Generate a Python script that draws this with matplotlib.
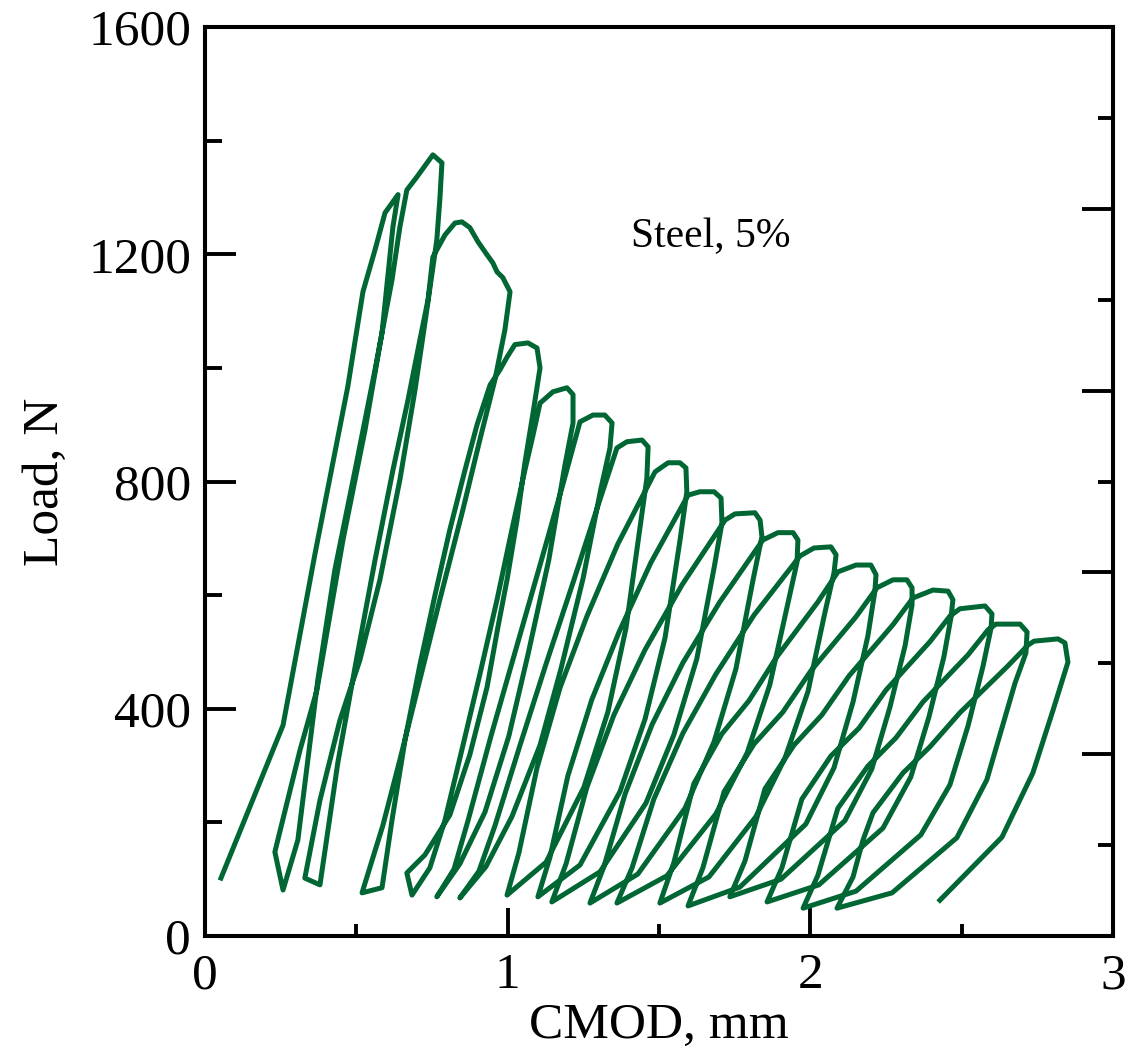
import numpy as np
import matplotlib
matplotlib.use("Agg")
import matplotlib.pyplot as plt
from matplotlib.ticker import MultipleLocator

# ------------------- data (CMOD, mm / Load, N) -------------------
# initial loading up to the first peak
c00_x = [0.053, 0.258, 0.363, 0.472, 0.522, 0.562, 0.595, 0.638]
c00_y = [102, 371, 671, 967, 1134, 1208, 1273, 1305]

# each cycle: unloading from previous peak -> bottom -> reloading over the next peak
c01_x = [0.621, 0.585, 0.529, 0.456, 0.370, 0.314, 0.231, 0.258, 0.307, 0.373, 0.429, 0.496,
         0.562, 0.618, 0.644, 0.667, 0.700, 0.753, 0.783, 0.776]
c01_y = [1248, 1062, 891, 697, 433, 327, 148, 81, 169, 451, 644, 820,
         997, 1155, 1248, 1313, 1336, 1375, 1361, 1296]

c02_x = [0.766, 0.733, 0.694, 0.644, 0.578, 0.512, 0.446, 0.380, 0.330, 0.380, 0.439, 0.502,
         0.562, 0.621, 0.671, 0.710, 0.737, 0.753, 0.793, 0.826, 0.849, 0.875, 0.902, 0.932,
         0.951, 0.965, 0.984, 1.008]
c02_y = [1225, 1102, 961, 803, 627, 486, 380, 239, 102, 90, 305, 491,
         662, 820, 944, 1049, 1120, 1195, 1234, 1255, 1257, 1247, 1222, 1199,
         1185, 1169, 1159, 1134]

c03_x = [0.991, 0.958, 0.908, 0.852, 0.776, 0.710, 0.644, 0.588, 0.519, 0.585, 0.618, 0.661,
         0.710, 0.760, 0.809, 0.859, 0.899, 0.942, 0.975, 0.998, 1.024, 1.067, 1.097, 1.107]
c03_y = [1067, 979, 873, 750, 592, 451, 310, 195, 76, 85, 204, 345,
         477, 600, 715, 820, 900, 970, 997, 1019, 1041, 1044, 1035, 1000]

c04_x = [1.084, 1.057, 1.031, 0.998, 0.968, 0.932, 0.875, 0.809, 0.727, 0.667, 0.684, 0.743,
         0.793, 0.849, 0.908, 0.965, 1.014, 1.057, 1.084, 1.107, 1.150, 1.196, 1.216, 1.216]
c04_y = [921, 833, 732, 627, 544, 438, 319, 213, 143, 111, 72, 120,
         204, 328, 460, 592, 715, 820, 882, 938, 958, 965, 953, 903]

c05_x = [1.189, 1.136, 1.067, 1.004, 0.925, 0.842, 0.766, 0.823, 0.869, 0.945, 1.027, 1.107,
         1.183, 1.239, 1.282, 1.321, 1.345, 1.338]
c05_y = [828, 662, 495, 352, 218, 127, 69, 118, 203, 352, 504, 653,
         796, 905, 917, 917, 903, 859]

c06_x = [1.308, 1.249, 1.176, 1.107, 1.014, 0.928, 0.842, 0.905, 0.958, 1.041, 1.127, 1.216,
         1.298, 1.361, 1.394, 1.444, 1.464, 1.460]
c06_y = [787, 629, 470, 336, 210, 122, 67, 114, 194, 336, 479, 622,
         757, 859, 870, 873, 861, 806]

c07_x = [1.437, 1.391, 1.331, 1.252, 1.127, 0.998, 1.037, 1.097, 1.173, 1.262, 1.364, 1.487,
         1.530, 1.569, 1.589, 1.592]
c07_y = [718, 542, 394, 262, 130, 72, 146, 296, 437, 563, 690, 817,
         833, 833, 824, 782]

c08_x = [1.569, 1.520, 1.454, 1.371, 1.239, 1.100, 1.140, 1.199, 1.278, 1.368, 1.473, 1.596,
         1.635, 1.682, 1.705, 1.708]
c08_y = [695, 525, 382, 254, 125, 69, 139, 282, 416, 535, 657, 776,
         782, 782, 771, 727]

c09_x = [1.682, 1.625, 1.549, 1.457, 1.305, 1.146, 1.193, 1.262, 1.351, 1.454, 1.576, 1.718,
         1.751, 1.817, 1.834, 1.840]
c09_y = [648, 488, 354, 234, 113, 60, 127, 262, 389, 504, 618, 732,
         743, 745, 732, 703]

c10_x = [1.810, 1.754, 1.682, 1.586, 1.430, 1.272, 1.318, 1.388, 1.477, 1.579, 1.701, 1.843,
         1.893, 1.943, 1.959, 1.956]
c10_y = [625, 470, 342, 225, 109, 58, 122, 250, 372, 481, 588, 697,
         710, 710, 697, 658]

c11_x = [1.926, 1.866, 1.791, 1.688, 1.526, 1.361, 1.411, 1.483, 1.579, 1.688, 1.814, 1.966,
         2.012, 2.068, 2.085, 2.078]
c11_y = [586, 442, 322, 215, 106, 58, 120, 241, 357, 461, 565, 669,
         683, 685, 671, 639]

c12_x = [2.048, 1.992, 1.916, 1.820, 1.665, 1.503, 1.549, 1.615, 1.708, 1.797, 1.886, 2.025,
         2.091, 2.151, 2.200, 2.217, 2.213]
c12_y = [569, 430, 313, 210, 104, 58, 129, 268, 356, 414, 489, 588,
         641, 653, 653, 636, 606]

c13_x = [2.190, 2.141, 2.078, 1.985, 1.767, 1.596, 1.645, 1.715, 1.814, 1.909, 2.002, 2.151,
         2.220, 2.273, 2.319, 2.336, 2.336]
c13_y = [528, 412, 296, 197, 86, 53, 120, 254, 338, 394, 467, 562,
         613, 627, 627, 613, 583]

c14_x = [2.313, 2.263, 2.203, 2.114, 1.903, 1.734, 1.784, 1.850, 1.946, 2.038, 2.128, 2.273,
         2.339, 2.405, 2.455, 2.471, 2.465]
c14_y = [511, 403, 294, 203, 100, 69, 132, 259, 336, 389, 458, 548,
         595, 609, 607, 592, 562]

c15_x = [2.441, 2.392, 2.332, 2.240, 2.028, 1.857, 1.906, 1.972, 2.068, 2.161, 2.250, 2.395,
         2.461, 2.494, 2.577, 2.600, 2.597]
c15_y = [491, 386, 280, 190, 90, 60, 120, 241, 317, 366, 433, 518,
         563, 576, 581, 567, 542]

c16_x = [2.570, 2.521, 2.461, 2.365, 2.151, 1.976, 2.025, 2.091, 2.190, 2.283, 2.372, 2.521,
         2.587, 2.613, 2.693, 2.716, 2.712]
c16_y = [474, 370, 266, 178, 79, 49, 107, 225, 299, 349, 412, 495,
         539, 549, 549, 535, 498]

c17_x = [2.676, 2.583, 2.484, 2.270, 2.088, 2.141, 2.174, 2.207, 2.306, 2.395, 2.494, 2.650,
         2.719, 2.739, 2.818, 2.841, 2.851]
c17_y = [445, 275, 173, 76, 49, 104, 169, 217, 287, 333, 393, 474,
         512, 519, 523, 516, 482]

# last unloading (end of test)
c18_x = [2.802, 2.735, 2.633, 2.428]
c18_y = [398, 287, 174, 63]

cycles_x = [c00_x, c01_x, c02_x, c03_x, c04_x, c05_x, c06_x, c07_x, c08_x, c09_x,
            c10_x, c11_x, c12_x, c13_x, c14_x, c15_x, c16_x, c17_x, c18_x]
cycles_y = [c00_y, c01_y, c02_y, c03_y, c04_y, c05_y, c06_y, c07_y, c08_y, c09_y,
            c10_y, c11_y, c12_y, c13_y, c14_y, c15_y, c16_y, c17_y, c18_y]

LINE_COLOR = "#006633"

# ------------------- plot -------------------
plt.rcParams["font.family"] = ["Liberation Serif", "DejaVu Serif"]

cmod = np.concatenate(cycles_x)
load = np.concatenate(cycles_y)

fig = plt.figure(figsize=(11.26, 10.51), dpi=100)
ax = fig.add_axes([0.182, 0.1094, 0.8065, 0.8649])

ax.plot(cmod, load, color=LINE_COLOR, lw=3.6, solid_joinstyle="round")

ax.set_xlim(0, 3)
ax.set_ylim(0, 1600)
ax.xaxis.set_major_locator(MultipleLocator(1))
ax.xaxis.set_minor_locator(MultipleLocator(0.5))
ax.yaxis.set_major_locator(MultipleLocator(400))
ax.yaxis.set_minor_locator(MultipleLocator(200))

ax.tick_params(axis="both", which="both", direction="in", width=2.8, labelsize=37,
               top=False, right=False)
ax.tick_params(axis="x", which="major", length=20, pad=12)
ax.tick_params(axis="x", which="minor", length=9)
ax.tick_params(axis="y", which="major", length=22, pad=10)
ax.tick_params(axis="y", which="minor", length=12)

for sp in ax.spines.values():
    sp.set_linewidth(2.9)

# unlabeled right-hand scale with 10 divisions
ax2 = ax.twinx()
ax2.set_ylim(0, 10)
ax2.yaxis.set_major_locator(MultipleLocator(2))
ax2.yaxis.set_minor_locator(MultipleLocator(1))
ax2.tick_params(axis="y", which="both", direction="in", width=2.8, labelright=False)
ax2.tick_params(axis="y", which="major", length=22)
ax2.tick_params(axis="y", which="minor", length=11)
for sp in ax2.spines.values():
    sp.set_linewidth(2.9)

ax.set_xlabel("CMOD, mm", fontsize=37, labelpad=2)
ax.set_ylabel("Load, N", fontsize=37, labelpad=14)

ax.text(1.67, 1230, "Steel, 5%", fontsize=30, ha="center", va="center")

fig.savefig("out.png", dpi=100)
